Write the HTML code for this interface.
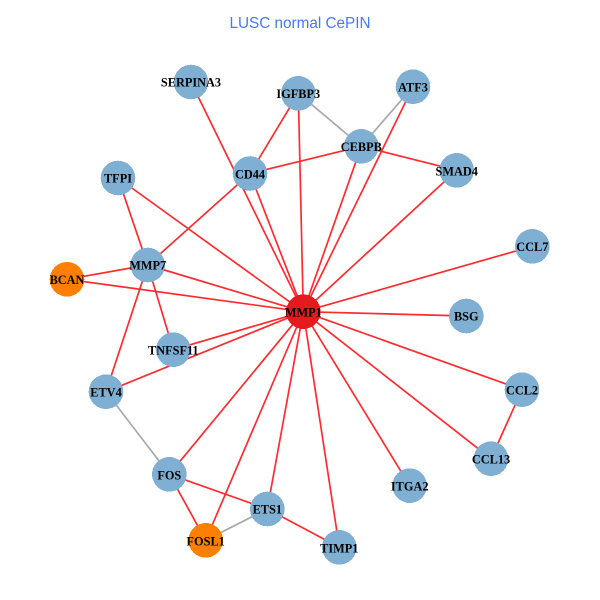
<!DOCTYPE html>
<html><head><meta charset="utf-8"><style>
html,body{margin:0;padding:0;background:#fff}
svg{display:block}
.r line{stroke:#ff2b2f;stroke-width:1.7}
.g line{stroke:#a9a9a9;stroke-width:1.7}
.n text{font:bold 12.3px "Liberation Serif",serif;fill:#000;text-anchor:middle}
</style></head><body>
<svg width="600" height="600" viewBox="0 0 600 600" xmlns="http://www.w3.org/2000/svg">
<rect width="600" height="600" fill="#fff"/>
<text x="300" y="28" text-anchor="middle" font-family="Liberation Sans, sans-serif" font-size="15.3" fill="#4479fa">LUSC normal CePIN</text>
<g class="g">
<line x1="298.3" y1="93.3" x2="361.3" y2="146.3"/>
<line x1="413" y1="86.7" x2="361.3" y2="146.3"/>
<line x1="106" y1="391.7" x2="169.3" y2="474.3"/>
<line x1="267.3" y1="509" x2="205.7" y2="540.3"/>
</g>
<g class="r">
<line x1="303.3" y1="311.7" x2="191" y2="82"/>
<line x1="303.3" y1="311.7" x2="298.3" y2="93.3"/>
<line x1="303.3" y1="311.7" x2="413" y2="86.7"/>
<line x1="303.3" y1="311.7" x2="361.3" y2="146.3"/>
<line x1="303.3" y1="311.7" x2="250" y2="173.5"/>
<line x1="303.3" y1="311.7" x2="456.7" y2="170.3"/>
<line x1="303.3" y1="311.7" x2="118" y2="178"/>
<line x1="303.3" y1="311.7" x2="147.7" y2="265"/>
<line x1="303.3" y1="311.7" x2="67" y2="279.3"/>
<line x1="303.3" y1="311.7" x2="532.3" y2="246.3"/>
<line x1="303.3" y1="311.7" x2="466.3" y2="316"/>
<line x1="303.3" y1="311.7" x2="522" y2="389.7"/>
<line x1="303.3" y1="311.7" x2="491" y2="458.7"/>
<line x1="303.3" y1="311.7" x2="409.7" y2="485.7"/>
<line x1="303.3" y1="311.7" x2="339.3" y2="547.3"/>
<line x1="303.3" y1="311.7" x2="267.3" y2="509"/>
<line x1="303.3" y1="311.7" x2="205.7" y2="540.3"/>
<line x1="303.3" y1="311.7" x2="169.3" y2="474.3"/>
<line x1="303.3" y1="311.7" x2="173.3" y2="349.7"/>
<line x1="303.3" y1="311.7" x2="106" y2="391.7"/>
<line x1="250" y1="173.5" x2="298.3" y2="93.3"/>
<line x1="250" y1="173.5" x2="361.3" y2="146.3"/>
<line x1="250" y1="173.5" x2="147.7" y2="265"/>
<line x1="361.3" y1="146.3" x2="456.7" y2="170.3"/>
<line x1="118" y1="178" x2="147.7" y2="265"/>
<line x1="147.7" y1="265" x2="67" y2="279.3"/>
<line x1="147.7" y1="265" x2="173.3" y2="349.7"/>
<line x1="147.7" y1="265" x2="106" y2="391.7"/>
<line x1="169.3" y1="474.3" x2="205.7" y2="540.3"/>
<line x1="169.3" y1="474.3" x2="267.3" y2="509"/>
<line x1="267.3" y1="509" x2="339.3" y2="547.3"/>
<line x1="522" y1="389.7" x2="491" y2="458.7"/>
</g>
<g fill="#7fb0d3" shape-rendering="crispEdges">
<circle cx="191" cy="82" r="17.3"/>
<circle cx="298.3" cy="93.3" r="17.3"/>
<circle cx="413" cy="86.7" r="17.3"/>
<circle cx="361.3" cy="146.3" r="17.3"/>
<circle cx="250" cy="173.5" r="17.3"/>
<circle cx="456.7" cy="170.3" r="17.3"/>
<circle cx="118" cy="178" r="17.3"/>
<circle cx="147.7" cy="265" r="17.3"/>
<circle cx="532.3" cy="246.3" r="17.3"/>
<circle cx="466.3" cy="316" r="17.3"/>
<circle cx="173.3" cy="349.7" r="17.3"/>
<circle cx="106" cy="391.7" r="17.3"/>
<circle cx="522" cy="389.7" r="17.3"/>
<circle cx="491" cy="458.7" r="17.3"/>
<circle cx="409.7" cy="485.7" r="17.3"/>
<circle cx="169.3" cy="474.3" r="17.3"/>
<circle cx="267.3" cy="509" r="17.3"/>
<circle cx="339.3" cy="547.3" r="17.3"/>
</g>
<g shape-rendering="crispEdges">
<circle cx="67" cy="279.3" r="17.3" fill="#ff7f00"/>
<circle cx="205.7" cy="540.3" r="17.3" fill="#ff7f00"/>
<circle cx="303.3" cy="311.7" r="17.3" fill="#e41a1c"/>
</g>
<g class="n">
<text x="191" y="86.5">SERPINA3</text>
<text x="298.3" y="98">IGFBP3</text>
<text x="413" y="91.5">ATF3</text>
<text x="361.3" y="151">CEBPB</text>
<text x="250" y="178.5">CD44</text>
<text x="456.7" y="175.5">SMAD4</text>
<text x="118" y="182.5">TFPI</text>
<text x="147.7" y="269.5">MMP7</text>
<text x="67" y="284">BCAN</text>
<text x="303.3" y="316.5">MMP1</text>
<text x="532.3" y="251">CCL7</text>
<text x="466.3" y="320.5">BSG</text>
<text x="173.3" y="354.5">TNFSF11</text>
<text x="106" y="396.5">ETV4</text>
<text x="522" y="394.5">CCL2</text>
<text x="491" y="463.5">CCL13</text>
<text x="409.7" y="490.5">ITGA2</text>
<text x="169.3" y="479.5">FOS</text>
<text x="267.3" y="513.5">ETS1</text>
<text x="205.7" y="545.5">FOSL1</text>
<text x="339.3" y="552.5">TIMP1</text>
</g>
</svg>
</body></html>
